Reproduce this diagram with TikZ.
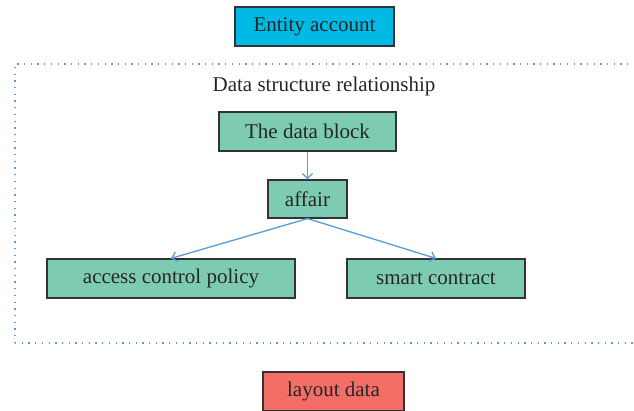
\documentclass[tikz,border=0pt]{standalone}
\usepackage{fontspec}
\setmainfont{Liberation Serif}
\usetikzlibrary{arrows.meta}
\definecolor{cyanbox}{HTML}{00B9E4}
\definecolor{tealbox}{HTML}{7DCBB2}
\definecolor{redbox}{HTML}{F26E66}
\definecolor{linkblue}{HTML}{5B9BD5}
\tikzset{
  label text/.style={font=\fontsize{21}{24}\selectfont, text=black!85},
  box/.style={label text, draw=black!80, line width=1.2pt, inner sep=0pt},
  link/.style={draw=linkblue, line width=1.3pt, -{Straight Barb[length=5pt,width=10pt]}},
  frame/.style={linkblue, line width=1.3pt, dash pattern=on 1.3pt off 5.4pt},
}
\begin{document}
\begin{tikzpicture}[x=1pt,y=1pt]
\useasboundingbox (0,0) rectangle (634,410);
% group frame (dotted, open to the right edge)
\draw[frame] (15,67) -- (15,346) -- (640,346);
\draw[frame] (15,67) -- (640,67);
\node[label text] (title) at (324,324) {Data structure relationship};
% boxes
\node[box, fill=cyanbox, minimum width=159pt, minimum height=39pt] (entity) at (314.5,383.5) {Entity account};
\node[box, fill=tealbox, minimum width=177pt, minimum height=39pt] (block) at (307.5,278.5) {The data block};
\node[box, fill=tealbox, minimum width=79pt, minimum height=38pt] (affair) at (307.5,211) {affair};
\node[box, fill=tealbox, minimum width=248pt, minimum height=39pt] (acp) at (171,131.5) {access control policy};
\node[box, fill=tealbox, minimum width=178pt, minimum height=39pt] (smart) at (436,131.5) {smart contract};
\node[box, fill=redbox, minimum width=141pt, minimum height=39pt] (layout) at (333.5,18.5) {layout data};
% connectors
\draw[link] (block.south) -- (affair.north);
\draw[link] (affair.south) -- (acp.north);
\draw[link] (affair.south) -- (smart.north);
\end{tikzpicture}
\end{document}
